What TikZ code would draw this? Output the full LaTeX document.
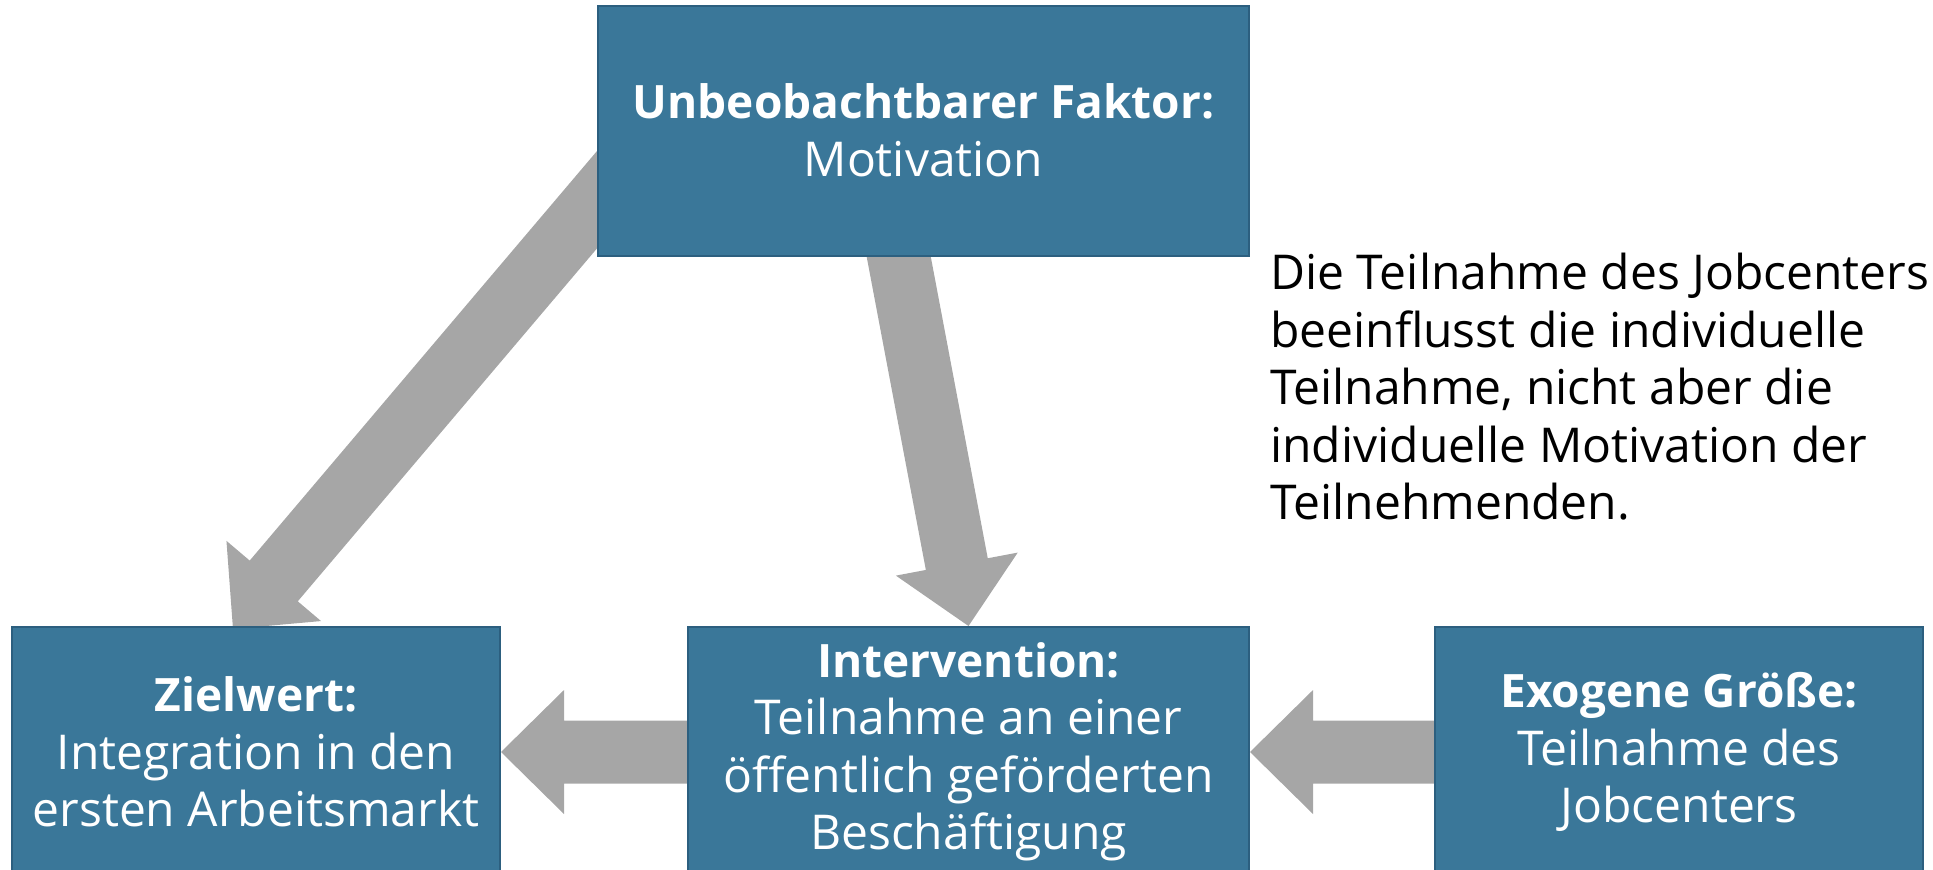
\documentclass[tikz,border=0pt]{standalone}
\usepackage{fontspec}
\setmainfont{Open Sans}
\usetikzlibrary{calc,backgrounds}

\definecolor{boxblue}{HTML}{3A7799}
\definecolor{boxline}{HTML}{2C5F7F}
\definecolor{arrowgrey}{HTML}{A6A6A6}

\tikzset{
  factor/.style={draw=boxline, line width=2pt, fill=boxblue, text=white,
    align=center, minimum height=250pt, inner sep=0pt,
    font=\fontsize{48}{57.5}\selectfont},
  note/.style={anchor=west, align=left, inner sep=0pt,
    font=\fontsize{48}{57.5}\selectfont},
}

% heading line in a box
\newcommand{\boxhead}[1]{{\fontsize{46}{57.5}\selectfont\bfseries #1}}

% broad grey arrow from #1 to the tip #2
\newcommand{\blockarrow}[2]{%
  \coordinate (h) at ($(#2)!63pt!(#1)$);
  \fill[arrowgrey] ($(#1)!31.5pt!90:(#2)$) -- ($(h)!31.5pt!90:(#2)$)
    -- ($(h)!62pt!90:(#2)$) -- (#2) -- ($(h)!62pt!-90:(#2)$)
    -- ($(h)!31.5pt!-90:(#2)$) -- ($(#1)!31.5pt!-90:(#2)$) -- cycle;
}

\begin{document}
\begin{tikzpicture}[x=1pt, y=-1pt]
    \useasboundingbox (0,0) rectangle (1933,870);
    \clip (0,0) rectangle (1933,870);

    % boxes
    \node[factor, minimum width=651pt] (motiv) at (923.5,130.5) {
        \boxhead{Unbeobachtbarer Faktor:}\\
        Motivation
    };
    \node[factor, minimum width=488pt] (ziel) at (256,752) {
        \boxhead{Zielwert:}\\
        Integration in den\\
        ersten Arbeitsmarkt
    };
    \node[factor, minimum width=561pt] (interv) at (968.5,752) {
        \boxhead{Intervention:}\\
        Teilnahme an einer\\
        öffentlich geförderten\\
        Beschäftigung
    };
    \node[factor, minimum width=488pt] (exo) at (1679,752) {
        \boxhead{Exogene Größe:}\\
        Teilnahme des\\
        Jobcenters
    };

    % side remark
    \node[note] (remark) at (1270,387) {
        Die Teilnahme des Jobcenters\\
        beeinflusst die individuelle\\
        Teilnahme, nicht aber die\\
        individuelle Motivation der\\
        Teilnehmenden.
    };

    % arrows behind the boxes
    \coordinate (m1) at (640,149);
    \coordinate (m2) at (888,200);
    \coordinate (t1) at ($(ziel.north west)+(222,3)$);
    \begin{scope}[on background layer]
        \blockarrow{m1}{t1}
        \blockarrow{m2}{interv.north}
        \blockarrow{exo.west}{interv.east}
        \blockarrow{interv.west}{ziel.east}
    \end{scope}
\end{tikzpicture}
\end{document}
